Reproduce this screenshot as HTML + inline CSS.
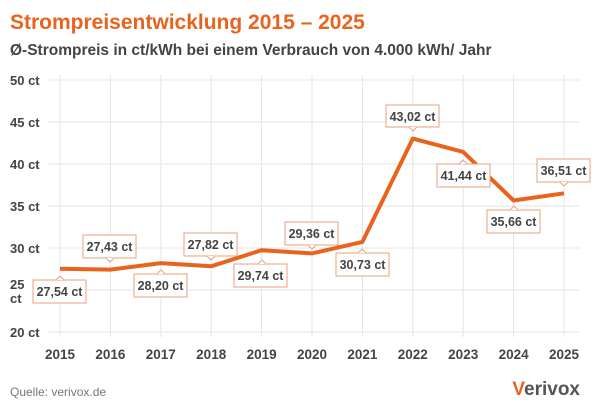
<!DOCTYPE html>
<html><head><meta charset="utf-8"><style>
body{margin:0;background:#fff;width:600px;height:405px;overflow:hidden;font-family:"Liberation Sans","DejaVu Sans",sans-serif}
</style></head><body>
<svg width="600" height="405" viewBox="0 0 600 405" xmlns="http://www.w3.org/2000/svg" font-family="Liberation Sans, DejaVu Sans, sans-serif">
<text x="10" y="29" font-size="21" font-weight="bold" fill="#e8641e">Strompreisentwicklung 2015 – 2025</text>
<text x="10" y="55" font-size="15.5" font-weight="bold" fill="#444">Ø-Strompreis in ct/kWh bei einem Verbrauch von 4.000 kWh/ Jahr</text>
<g stroke="#e4e4e4" stroke-width="1">
<line x1="48" y1="80" x2="580" y2="80"/><line x1="48" y1="122" x2="580" y2="122"/><line x1="48" y1="164" x2="580" y2="164"/><line x1="48" y1="206" x2="580" y2="206"/><line x1="48" y1="248" x2="580" y2="248"/><line x1="48" y1="290" x2="580" y2="290"/><line x1="48" y1="332" x2="580" y2="332"/>
<line x1="60" y1="75" x2="60" y2="337"/><line x1="110.4" y1="75" x2="110.4" y2="337"/><line x1="160.8" y1="75" x2="160.8" y2="337"/><line x1="211.2" y1="75" x2="211.2" y2="337"/><line x1="261.6" y1="75" x2="261.6" y2="337"/><line x1="312" y1="75" x2="312" y2="337"/><line x1="362.4" y1="75" x2="362.4" y2="337"/><line x1="412.8" y1="75" x2="412.8" y2="337"/><line x1="463.2" y1="75" x2="463.2" y2="337"/><line x1="513.6" y1="75" x2="513.6" y2="337"/><line x1="564" y1="75" x2="564" y2="337"/>
</g>
<g font-size="13" font-weight="bold" fill="#444">
<text x="10" y="85">50 ct</text><text x="10" y="127">45 ct</text><text x="10" y="169">40 ct</text><text x="10" y="211">35 ct</text><text x="10" y="253">30 ct</text><text x="10" y="289">25</text><text x="10" y="303">ct</text><text x="10" y="337">20 ct</text>
</g>
<g font-size="13.5" font-weight="bold" fill="#444" text-anchor="middle">
<text x="60" y="359">2015</text><text x="110.4" y="359">2016</text><text x="160.8" y="359">2017</text><text x="211.2" y="359">2018</text><text x="261.6" y="359">2019</text><text x="312" y="359">2020</text><text x="362.4" y="359">2021</text><text x="412.8" y="359">2022</text><text x="463.2" y="359">2023</text><text x="513.6" y="359">2024</text><text x="564" y="359">2025</text>
</g>
<polyline fill="none" stroke="#e8641e" stroke-width="4" stroke-linejoin="round" points="60,268.7 110.4,269.6 160.8,263.1 211.2,266.3 261.6,250.2 312,253.4 362.4,241.9 412.8,138.6 463.2,151.9 513.6,200.5 564,193.3"/>
<g stroke="#e8a27a" stroke-width="1" fill="#fff">
<rect x="33" y="280" width="53" height="23"/><rect x="83" y="235" width="53" height="23"/><rect x="134" y="274" width="53" height="23"/><rect x="184" y="233" width="53" height="23"/><rect x="234" y="264" width="53" height="23"/><rect x="285" y="222" width="53" height="23"/><rect x="336" y="253" width="53" height="23"/><rect x="386" y="105" width="53" height="22"/><rect x="437" y="164" width="53" height="23"/><rect x="487" y="210" width="53" height="23"/><rect x="537" y="159" width="53" height="23"/>
</g>
<g fill="#fff" stroke="#e8a27a" stroke-width="1">
<path d="M56,280 L60,276 L64,280"/><path d="M106,258 L110,262 L114,258"/><path d="M157,274 L161,270 L165,274"/><path d="M207,256 L211,260 L215,256"/><path d="M258,264 L262,260 L266,264"/><path d="M308,245 L312,249 L316,245"/><path d="M358,253 L362,249 L366,253"/><path d="M409,127 L413,131 L417,127"/><path d="M459,164 L463,160 L467,164"/><path d="M510,210 L514,206 L518,210"/><path d="M560,182 L564,186 L568,182"/>
</g>
<g font-size="12.5" font-weight="bold" fill="#444" text-anchor="middle">
<text x="59.5" y="296">27,54 ct</text><text x="109.5" y="251">27,43 ct</text><text x="160.5" y="290">28,20 ct</text><text x="210.5" y="249">27,82 ct</text><text x="260.5" y="280">29,74 ct</text><text x="311.5" y="238">29,36 ct</text><text x="362.5" y="269">30,73 ct</text><text x="412.5" y="121">43,02 ct</text><text x="463.5" y="180">41,44 ct</text><text x="513.5" y="226">35,66 ct</text><text x="563.5" y="175">36,51 ct</text>
</g>
<text x="10" y="396" font-size="12" fill="#777">Quelle: verivox.de</text>
<text x="580" y="395" font-size="19" font-weight="bold" fill="#555" text-anchor="end"><tspan fill="#e8641e">V</tspan>erivox</text>
</svg>
</body></html>
